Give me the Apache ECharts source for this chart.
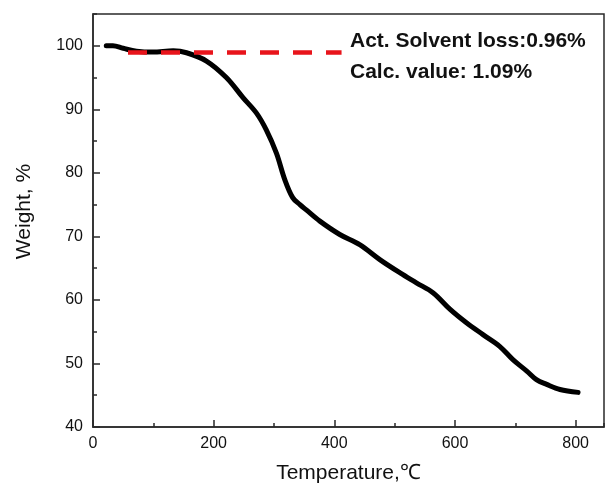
<!DOCTYPE html>
<html>
<head>
<meta charset="utf-8">
<script src="https://cdn.jsdelivr.net/npm/echarts@6/dist/echarts.min.js"></script>
<style>html,body{margin:0;padding:0;background:#fff;}#c{width:605px;height:491px;}</style>
</head>
<body>
<div id="c"></div>
<script>
var temperature = [22, 33, 50, 72, 99, 133, 155, 188, 221, 249, 271, 287, 304, 318, 331, 343, 353, 376, 409, 442, 476, 509, 536, 564, 592, 619, 647, 674, 696, 719, 735, 752, 774, 804];
var weight = [100, 100, 99.6, 99.15, 99.0, 99.2, 98.9, 97.6, 95.0, 91.8, 89.4, 86.8, 83.1, 78.9, 76.1, 75.0, 74.2, 72.4, 70.3, 68.7, 66.3, 64.25, 62.7, 61.1, 58.5, 56.4, 54.5, 52.7, 50.6, 48.8, 47.45, 46.7, 45.9, 45.45];
var solventX = [58, 412];
var solventY = [98.95, 98.95];
var xTicks = [0, 200, 400, 600, 800];
var yTicks = [40, 50, 60, 70, 80, 90, 100];
var noteLines = ['Act. Solvent loss:0.96%', 'Calc. value: 1.09%'];
var xName = 'Temperature,\u2103';
var yName = 'Weight, %';

var axisColor = '#2a2a2a';
var font = 'Arial, "Liberation Sans", sans-serif';

var curve = temperature.map(function (t, i) { return [t, weight[i]]; });
var dash = solventX.map(function (t, i) { return [t, solventY[i]]; });

var chart = echarts.init(document.getElementById('c'), null, {renderer: 'canvas'});
chart.setOption({
  animation: false,
  backgroundColor: '#fff',
  grid: {left: 93, right: 1, top: 14, bottom: 64, show: true, borderColor: axisColor, borderWidth: 1.5, backgroundColor: 'transparent'},
  xAxis: [{
    type: 'value', min: 0, max: 847, interval: 200, position: 'bottom',
    name: xName, nameLocation: 'middle', nameGap: 36,
    nameTextStyle: {fontFamily: font, fontSize: 21, color: '#111'},
    axisLine: {show: true, onZero: false, lineStyle: {color: axisColor, width: 1.5}},
    axisTick: {show: true, inside: true, length: 7, lineStyle: {color: axisColor, width: 1.5}},
    axisLabel: {show: true, margin: 9, fontFamily: font, fontSize: 16, color: '#111', showMaxLabel: false,
      formatter: function (v) { return xTicks.indexOf(v) >= 0 ? String(v) : ''; }},
    splitLine: {show: false}
  }, {
    type: 'value', min: 0, max: 847, interval: 100, position: 'bottom',
    axisLine: {show: false, onZero: false},
    axisTick: {show: true, inside: true, length: 4, lineStyle: {color: axisColor, width: 1.5}},
    axisLabel: {show: false}, splitLine: {show: false}
  }],
  yAxis: [{
    type: 'value', min: 40, max: 105, interval: 10, position: 'left',
    name: yName, nameLocation: 'middle', nameGap: 58, nameRotate: 90,
    nameTextStyle: {fontFamily: font, fontSize: 21, color: '#111', padding: [0, 0, 0, 18]},
    axisLine: {show: true, onZero: false, lineStyle: {color: axisColor, width: 1.5}},
    axisTick: {show: true, inside: true, length: 7, lineStyle: {color: axisColor, width: 1.5}},
    axisLabel: {show: true, margin: 10, fontFamily: font, fontSize: 16, color: '#111', showMaxLabel: false,
      formatter: function (v) { return yTicks.indexOf(v) >= 0 ? String(v) : ''; }},
    splitLine: {show: false}
  }, {
    type: 'value', min: 40, max: 105, interval: 5, position: 'left',
    axisLine: {show: false, onZero: false},
    axisTick: {show: true, inside: true, length: 4, lineStyle: {color: axisColor, width: 1.5}},
    axisLabel: {show: false}, splitLine: {show: false}
  }],
  series: [{
    type: 'line', xAxisIndex: 0, yAxisIndex: 0, data: curve, smooth: 0.35, showSymbol: false,
    lineStyle: {color: '#000', width: 5, cap: 'round', join: 'round'}, z: 3
  }, {
    type: 'line', xAxisIndex: 0, yAxisIndex: 0, data: dash, showSymbol: false,
    lineStyle: {color: '#e8141b', width: 4.5, type: [19, 14], cap: 'butt'}, z: 4
  }],
  graphic: [{
    type: 'text', left: 350, top: 31,
    style: {text: noteLines[0], font: 'bold 21px ' + font, fill: '#111'}
  }, {
    type: 'text', left: 350, top: 62,
    style: {text: noteLines[1], font: 'bold 21px ' + font, fill: '#111'}
  }]
});
</script>
</body>
</html>
